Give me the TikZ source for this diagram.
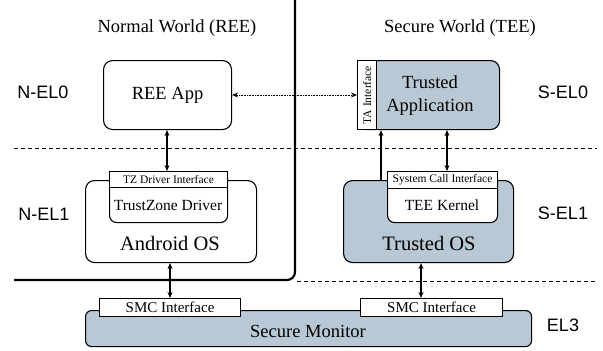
\documentclass[tikz,border=0pt]{standalone}
\usepackage{fontspec}
\setmainfont{Liberation Serif}
\newfontfamily\arialfont{Liberation Sans}
\usetikzlibrary{arrows.meta}
\definecolor{secfill}{HTML}{B8C8D4}
\begin{document}
\begin{tikzpicture}[x=1pt,y=-1pt,
  box/.style={draw,line width=1.1pt,inner sep=0pt,anchor=north west},
  rbox/.style={box,rounded corners=9pt},
  ifbox/.style={box,fill=white,rounded corners=0pt},
  eltext/.style={font=\arialfont\fontsize{18}{20}\selectfont},
  title/.style={font=\rmfamily\fontsize{18.5}{20}\selectfont},
  biglabel/.style={font=\rmfamily\fontsize{20.5}{22}\selectfont},
  midlabel/.style={font=\rmfamily\fontsize{15.5}{17}\selectfont},
  smclabel/.style={font=\rmfamily\fontsize{15}{17}\selectfont},
  smalllabel/.style={font=\rmfamily\fontsize{11.5}{13}\selectfont},
  dashline/.style={line width=0.9pt,dash pattern=on 4pt off 3pt},
  arr/.style={line width=1.1pt,{Stealth[length=6pt,width=5pt]}-{Stealth[length=6pt,width=5pt]}},
  uarr/.style={line width=1.1pt,-{Stealth[length=6pt,width=5pt]}},
  darr/.style={line width=0.8pt,dash pattern=on 0.8pt off 0.8pt,{Stealth[length=6pt,width=5pt]}-{Stealth[length=6pt,width=5pt]}}
]
\useasboundingbox (0,0) rectangle (603,351);
\fill[white] (0,0) rectangle (603,351);

% separator and level lines
\draw[line width=2.2pt,rounded corners=8pt] (295,0) -- (295,280) -- (14,280);
\draw[dashline] (14,148) -- (597,148);
\draw[dashline] (297,281) -- (597,281);

% titles
\node[title] (tn) at (177,28) {Normal World (REE)};
\node[title] (ts) at (460,28) {Secure World (TEE)};

% level labels
\node[eltext] (nel0) at (43,92) {N-EL0};
\node[eltext] (nel1) at (44,214) {N-EL1};
\node[eltext] (sel0) at (563,92) {S-EL0};
\node[eltext] (sel1) at (563,213) {S-EL1};
\node[eltext] (el3) at (563,325) {EL3};

% Normal world
\node[rbox,minimum width=128pt,minimum height=69pt] (ree) at (103,60) {};
\node[title] (reet) at (ree.center) {REE App};
\node[rbox,minimum width=171pt,minimum height=82pt] (aos) at (85,180) {};
\node[biglabel] (aost) at (170,243) {Android OS};
\node[rbox,rounded corners=7pt,fill=white,minimum width=118pt,minimum height=51pt] (tzd) at (109,171) {};
\node[midlabel] (tzdt) at (168,205) {TrustZone Driver};
\node[ifbox,minimum width=118pt,minimum height=16pt] (tzi) at (109,171) {};
\node[smalllabel] (tzit) at (tzi.center) {TZ Driver Interface};

% Secure world
\node[rbox,fill=secfill,minimum width=142pt,minimum height=69pt] (ta) at (357,60) {};
\node[align=center,font=\rmfamily\fontsize{18.5}{23}\selectfont] (tat) at (430,96) {Trusted\\Application};
\node[ifbox,minimum width=19pt,minimum height=69pt] (tai) at (357,60) {};
\node[smalllabel,rotate=90] (tait) at (tai.center) {TA Interface};
\node[rbox,fill=secfill,minimum width=170pt,minimum height=82pt] (tos) at (343,180) {};
\node[biglabel] (tost) at (429,243) {Trusted OS};
\node[rbox,rounded corners=7pt,fill=white,minimum width=110pt,minimum height=51pt] (tk) at (387,171) {};
\node[midlabel] (tkt) at (442,205) {TEE Kernel};
\node[ifbox,minimum width=110pt,minimum height=17pt] (sci) at (387,171) {};
\node[smalllabel] (scit) at (sci.center) {System Call Interface};

% Monitor
\node[rbox,rounded corners=6pt,fill=secfill,minimum width=446pt,minimum height=36pt] (mon) at (85,310) {};
\node[title] (mont) at (308,331) {Secure Monitor};
\node[ifbox,minimum width=141pt,minimum height=18pt] (smcl) at (99,298) {};
\node[smclabel] (smclt) at (smcl.center) {SMC Interface};
\node[ifbox,minimum width=142pt,minimum height=18pt] (smcr) at (360,298) {};
\node[smclabel] (smcrt) at (smcr.center) {SMC Interface};

% connectors
\draw[darr] (ree.east |- 0,95) -- (tai.west |- 0,95);
\draw[arr] (ree.south -| 167,0) -- (tzi.north -| 167,0);
\draw[arr] (aos.south -| 170,0) -- (smcl.north -| 170,0);
\draw[arr] (ta.south -| 447,0) -- (sci.north -| 447,0);
\draw[arr] (tos.south -| 421,0) -- (smcr.north -| 421,0);
\draw[uarr] (tos.north -| 381,0) -- (ta.south -| 381,0);
\end{tikzpicture}
\end{document}
